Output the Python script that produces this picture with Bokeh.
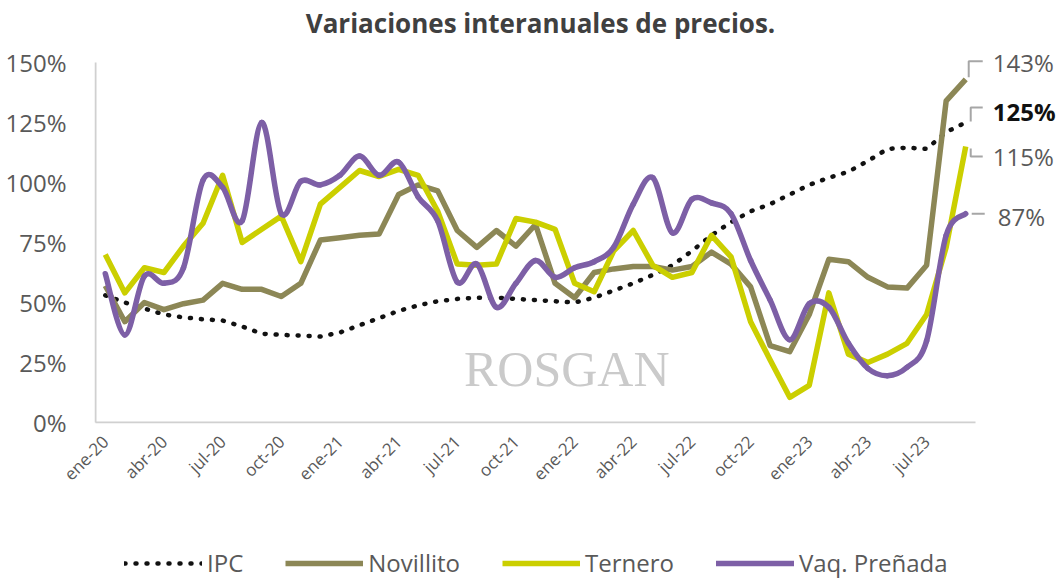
from math import pi
from bokeh.plotting import figure
from bokeh.layouts import column
from bokeh.models import (Range1d, FixedTicker, PrintfTickFormatter, Label, Legend,
                          LegendItem)
from bokeh.embed import file_html
from bokeh.resources import INLINE

# ---------------- data ----------------
tick_labels = ["ene-20", "abr-20", "jul-20", "oct-20", "ene-21", "abr-21", "jul-21",
               "oct-21", "ene-22", "abr-22", "jul-22", "oct-22", "ene-23", "abr-23", "jul-23"]
n_months = 45  # ene-20 ... sep-23
months = list(range(n_months))

ipc = [53, 50, 47.5, 45, 43.8, 43, 42.5, 40, 37, 36.5, 36.2, 35.8, 37.5, 40.5, 43.5,
       46.5, 48.8, 50.5, 51.5, 52, 52, 51.5, 51, 50.5, 50, 52, 55, 58, 61.5, 65.5,
       71.5, 78, 83.5, 88, 91, 95, 99, 102, 104.5, 109, 114, 114.5, 114, 121, 125]
novillito = [57, 42, 50, 47, 49.5, 51, 58, 55.5, 55.5, 52.5, 58, 76, 77, 78, 78.5,
             95, 99, 96.5, 80, 73, 80, 73.5, 82.5, 58, 52, 62.5, 64, 65, 65, 63.5,
             65, 71, 66, 56.5, 32, 29.5, 45, 68, 67, 60.5, 56.5, 56, 65.5, 134, 143]
ternero = [70, 54, 64.5, 62.5, 73.5, 83, 103, 75, 80.5, 86, 67, 91, 98, 105, 102.5,
           105.5, 103, 88, 66, 65.5, 66, 85, 83.5, 80.5, 58, 54.5, 71.5, 80, 65.5, 60.5,
           62.5, 78, 69, 42, 26, 10.5, 15.5, 54, 28.5, 25, 28.5, 33, 45, 73, 115]
vaq = [62, 36.5, 61, 58, 64.5, 101, 98, 84, 125, 87, 100.5, 99, 103, 111, 103,
       108.5, 94, 84, 58.5, 66, 48, 58, 67.5, 60.5, 64.5, 67, 73, 91, 102, 79,
       93, 91.5, 87, 67.5, 51, 34.5, 49.5, 48, 33, 22.5, 19.5, 23, 34, 78, 87]

series_names = ["IPC", "Novillito", "Ternero", "Vaq. Preñada"]
title_text = "Variaciones interanuales de precios."
y_ticks = [0, 25, 50, 75, 100, 125, 150]

# ---------------- styles / layout ----------------
C_IPC = "#111111"
C_NOV = "#8C8756"
C_TER = "#CBCF00"
C_VAQ = "#7D5FA6"
C_TXT = "#595959"
C_AX = "#D0D0D0"
C_LEAD = "#A6A6A6"
FONT = "Open Sans"

W = 1058
H_MAIN, H_LEG = 530, 49
LEFT, TOP, BOTTOM = 94, 0, 423       # frame box in px
ZERO_Y, TOP_Y = 422, 62               # px rows of 0% and 150%
X0_PX = 95                            # px column of the left edge of the month band
px_x = 880 / n_months                 # px per month
px_y = (ZERO_Y - TOP_Y) / 150         # px per percent
x_start = -0.5 - (X0_PX - LEFT) / px_x
x_end = x_start + (W - LEFT) / px_x
y_start = 0 - (BOTTOM - ZERO_Y) / px_y
y_end = 0 + (ZERO_Y - TOP) / px_y

p = figure(width=W, height=H_MAIN, output_backend="svg", toolbar_location=None,
           x_range=Range1d(x_start, x_end), y_range=Range1d(y_start, y_end),
           min_border_left=LEFT, min_border_right=0, min_border_top=TOP,
           min_border_bottom=H_MAIN - BOTTOM, background_fill_color="white",
           border_fill_color="white")
p.outline_line_color = None
p.xgrid.visible = False
p.ygrid.visible = False

# title (placed in the empty space above 150%)
p.add_layout(Label(x=-0.5 + (540 - X0_PX) / px_x, y=(ZERO_Y - 22) / px_y,
                   text=title_text, text_font=FONT, text_font_style="bold",
                   text_font_size="26px", text_color="#404040", text_align="center",
                   text_baseline="middle"))

# x axis (its line drawn as a segment so it stops at the last month)
p.xaxis.ticker = FixedTicker(ticks=[3 * i for i in range(len(tick_labels))])
p.xaxis.major_label_overrides = {3 * i: t for i, t in enumerate(tick_labels)}
p.xaxis.major_label_orientation = pi / 4
p.xaxis.axis_line_color = None
p.xaxis.major_tick_line_color = None
p.xaxis.minor_tick_line_color = None
p.xaxis.major_label_text_font = FONT
p.xaxis.major_label_text_font_size = "17px"
p.xaxis.major_label_text_color = C_TXT
p.xaxis.major_label_standoff = 9
p.segment(x0=[-0.5], y0=[0], x1=[n_months - 0.5], y1=[0], line_color=C_AX,
          line_width=2)

# y axis (its line drawn as a segment from 0% to 150%)
p.yaxis.ticker = FixedTicker(ticks=y_ticks)
p.yaxis.formatter = PrintfTickFormatter(format="%d%%")
p.yaxis.axis_line_color = None
p.yaxis.major_tick_line_color = None
p.yaxis.minor_tick_line_color = None
p.yaxis.major_label_text_font = FONT
p.yaxis.major_label_text_font_size = "24px"
p.yaxis.major_label_text_color = C_TXT
p.yaxis.major_label_standoff = 22
p.segment(x0=[-0.5], y0=[y_ticks[0]], x1=[-0.5], y1=[y_ticks[-1]], line_color=C_AX,
          line_width=2)

# watermark
p.add_layout(Label(x=23.6, y=22.5, text="ROSGAN", text_font="Liberation Serif",
                   text_font_size="50px", text_color="#CACACA", text_align="center",
                   text_baseline="middle"))

# series
ipc_style = dict(line_color=C_IPC, line_width=4.5, line_dash="1 10", line_cap="round")
nov_style = dict(line_color=C_NOV, line_width=5.5, line_join="round")
ter_style = dict(line_color=C_TER, line_width=5.5, line_join="round")
vaq_style = dict(line_color=C_VAQ, line_width=5.5, line_cap="round")

p.line(months, ipc, **ipc_style)
p.line(months, novillito, **nov_style)
p.line(months, ternero, **ter_style)

# smoothed line for Vaq. Preñada (Catmull-Rom through the data points)
x0s, y0s, x1s, y1s, cx0s, cy0s, cx1s, cy1s = [], [], [], [], [], [], [], []
n = len(vaq)
for i in range(n - 1):
    xa, ya = months[max(i - 1, 0)], vaq[max(i - 1, 0)]
    xb, yb = months[i], vaq[i]
    xc, yc = months[i + 1], vaq[i + 1]
    xd, yd = months[min(i + 2, n - 1)], vaq[min(i + 2, n - 1)]
    x0s.append(xb); y0s.append(yb); x1s.append(xc); y1s.append(yc)
    cx0s.append(xb + (xc - xa) / 6); cy0s.append(yb + (yc - ya) / 6)
    cx1s.append(xc - (xd - xb) / 6); cy1s.append(yc - (yd - yb) / 6)
p.bezier(x0=x0s, y0=y0s, x1=x1s, y1=y1s, cx0=cx0s, cy0=cy0s, cx1=cx1s, cy1=cy1s,
         **vaq_style)

# end labels with leaders
last = n_months - 1
v_nov, v_ipc, v_ter, v_vaq = novillito[-1], ipc[-1], ternero[-1], vaq[-1]
leaders = [
    (v_nov, [(3, 2), (3, 18), (17, 18)]),
    (v_ipc, [(5, 1), (5, 15), (17, 15)]),
    (v_ter, [(5, -2), (5, -10), (17, -10)]),
    (v_vaq, [(6, 0), (19, 0)]),
]
for v, pts in leaders:
    p.line([last + dx / px_x for dx, dy in pts], [v + dy / px_y for dx, dy in pts],
           line_color=C_LEAD, line_width=2)

for v, xo, yo, bold, col in [(v_nov, 27, 17, False, C_TXT), (v_ipc, 27, 11, True, "#111111"),
                             (v_ter, 27, -10, False, C_TXT), (v_vaq, 32, -3, False, C_TXT)]:
    p.add_layout(Label(x=last, y=v, x_offset=xo, y_offset=yo, text=f"{v:.0f}%",
                       text_font=FONT, text_font_size="24px", text_color=col,
                       text_font_style="bold" if bold else "normal",
                       text_align="left", text_baseline="middle"))

# ---------------- legend strip (frame aligned with the chart's frame) ----------------
lg = figure(width=W, height=H_LEG, output_backend="svg", toolbar_location=None,
            x_range=Range1d(-1, 0), y_range=Range1d(-1, 0), x_axis_type=None,
            y_axis_type=None, min_border=0, background_fill_color="white",
            border_fill_color="white")
lg.outline_line_color = None
lg.xgrid.visible = False
lg.ygrid.visible = False
# same series, lying outside this strip's ranges: only their legend glyphs show
rl = [lg.line(months, ipc, **ipc_style), lg.line(months, novillito, **nov_style),
      lg.line(months, ternero, **ter_style), lg.line(months, vaq, **vaq_style)]
legend = Legend(items=[LegendItem(label=nm, renderers=[r]) for nm, r in zip(series_names, rl)],
                orientation="horizontal", location=(124 - LEFT, 0),
                border_line_color=None, background_fill_alpha=0,
                label_text_font=FONT, label_text_font_size="24px",
                label_text_color=C_TXT, glyph_width=78, glyph_height=26,
                label_height=26, label_standoff=5, spacing=42, padding=0, margin=0)
lg.add_layout(legend, "center")

layout = column(p, lg, spacing=0)
open("out.html", "w").write(file_html(layout, INLINE))
